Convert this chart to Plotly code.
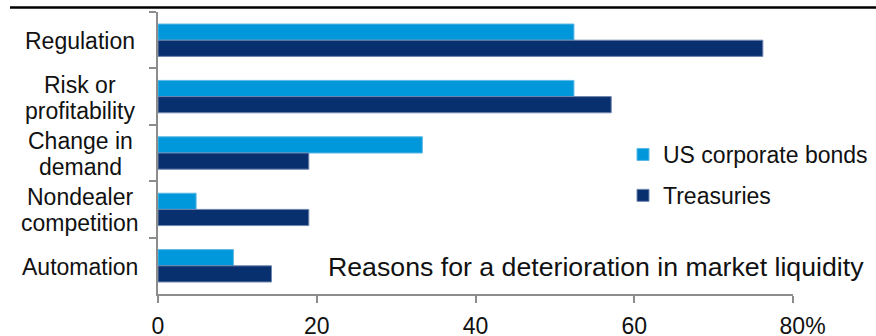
import plotly.graph_objects as go

categories = ["Regulation", "Risk or<br>profitability", "Change in<br>demand", "Nondealer<br>competition", "Automation"]
us_corporate = [52.4, 52.4, 33.3, 4.8, 9.5]
treasuries = [76.2, 57.1, 19.0, 19.0, 14.3]
x_ticks = [0, 20, 40, 60, 80]
x_ticktext = ["0", "20", "40", "60", "\u00a0\u00a0\u00a080%"]
series_names = ["US corporate bonds", "Treasuries"]
title_text = "Reasons for a deterioration in market liquidity"

FONT = "Liberation Sans, Arial, sans-serif"
LIGHT = "#0098DA"
DARK = "#08306F"

fig = go.Figure()
fig.add_trace(go.Bar(y=categories, x=us_corporate, orientation="h", name=series_names[0],
                     marker=dict(color=LIGHT, line=dict(color="#5BB8E6", width=1)),
                     legendgroup="a"))
fig.add_trace(go.Bar(y=categories, x=treasuries, orientation="h", name=series_names[1],
                     marker=dict(color=DARK, line=dict(color="#6F86B0", width=1)),
                     legendgroup="b"))

W, H = 876, 336
L, R, T, B = 158, 83, 12, 42
pw, ph = W - L - R, H - T - B

def px_x(p):
    return (p - L) / pw

def px_y(p):
    return (H - B - p) / ph

LINE_SP = 26
annotations = []
for c in categories:
    lines = c.split("<br>")
    n = len(lines)
    for i, line in enumerate(lines):
        annotations.append(dict(text=line, x=0, xref="paper", y=c, yref="y", xanchor="center",
                                yanchor="middle", xshift=-(158 - 80), yshift=((n - 1) / 2 - i) * LINE_SP - 1,
                                showarrow=False,
                                font=dict(family=FONT, size=23, color="#111111")))
annotations.append(dict(text=title_text, x=px_x(326), xref="paper", y=px_y(267), yref="paper",
                        xanchor="left", yanchor="middle", showarrow=False,
                        font=dict(family=FONT, size=26.7, color="#111111")))

fig.update_layout(
    width=W, height=H,
    margin=dict(l=L, r=R, t=T, b=B, autoexpand=False),
    paper_bgcolor="white", plot_bgcolor="white",
    barmode="group", bargap=0.426, bargroupgap=0,
    font=dict(family=FONT, size=22, color="#111111"),
    legend=dict(x=px_x(623), xanchor="left", y=px_y(175), yanchor="middle",
                traceorder="grouped", tracegroupgap=8, itemwidth=30,
                bgcolor="rgba(0,0,0,0)", font=dict(family=FONT, size=23, color="#111111")),
    xaxis=dict(range=[0, 80], tickvals=x_ticks, ticktext=x_ticktext, showgrid=False,
               zeroline=False, showline=True, linecolor="#8C8C8C", linewidth=1.5,
               ticks="outside", ticklen=7, tickcolor="#8C8C8C", tickwidth=1.5,
               ticklabelstandoff=4, automargin=False,
               tickfont=dict(family=FONT, size=23, color="#111111")),
    yaxis=dict(autorange="reversed", type="category", showticklabels=False, showgrid=False,
               showline=True, linecolor="#8C8C8C", linewidth=1.5, ticks="outside",
               tickson="boundaries", ticklen=7, tickcolor="#8C8C8C", tickwidth=1.5,
               automargin=False),
    annotations=annotations,
    shapes=[dict(type="line", xref="paper", yref="paper", x0=px_x(10), x1=px_x(876),
                 y0=px_y(7.5), y1=px_y(7.5), line=dict(color="black", width=2.5))],
    showlegend=True,
)

fig.write_html("out.html")
